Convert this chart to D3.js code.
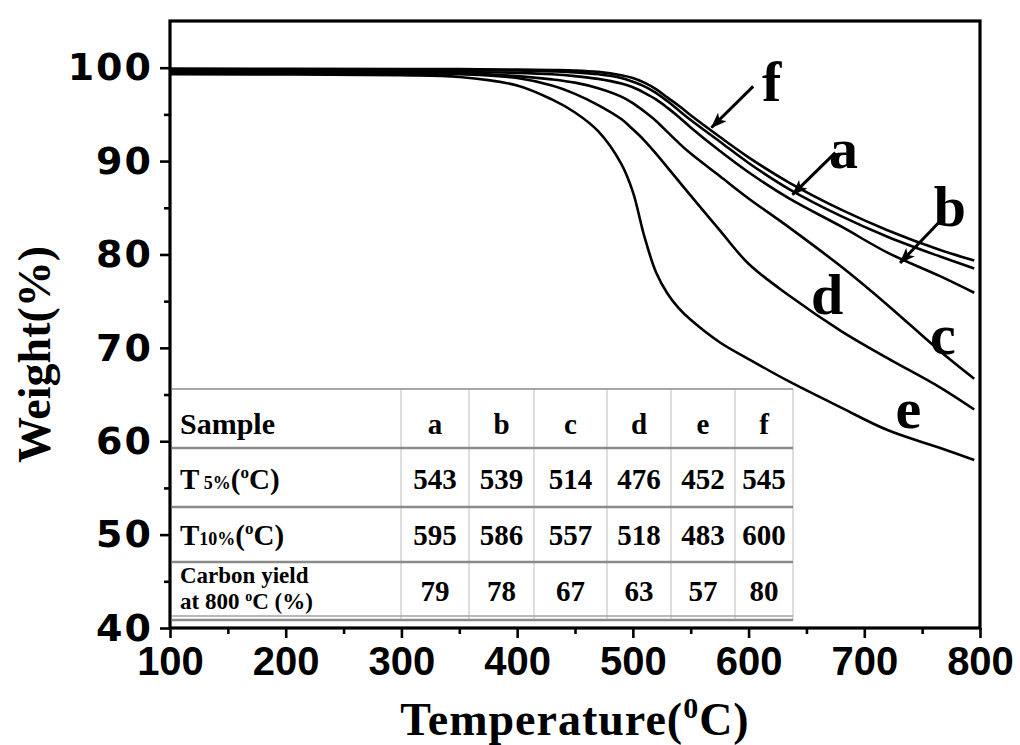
<!DOCTYPE html>
<html>
<head>
<meta charset="utf-8">
<script src="https://cdn.jsdelivr.net/npm/d3@7/dist/d3.min.js"></script>
<style>
  body { margin: 0; background: #fff; }
  svg { display: block; background: #fff; }
</style>
</head>
<body>
<svg id="tga" width="1020" height="745"></svg>
<script>
// temperature grid (deg C) shared by all curves
const temps = [100, 300, 350, 400, 430, 450, 470, 490, 500, 510, 520, 530, 540, 550, 575, 600, 635, 680, 720, 765, 795];

// residual weight (%)
const weightA = [99.8, 99.75, 99.75, 99.7, 99.6, 99.5, 99.3, 98.9, 98.5, 98.0, 97.3, 96.4, 95.4, 94.4, 92.1, 89.8, 87.0, 84.1, 81.9, 79.8, 78.5];
const weightB = [99.7, 99.6, 99.55, 99.45, 99.3, 99.1, 98.8, 98.3, 97.9, 97.3, 96.6, 95.7, 94.7, 93.6, 91.1, 88.8, 86.0, 83.0, 80.2, 77.7, 75.9];
const weightC = [99.6, 99.5, 99.4, 99.1, 98.75, 98.4, 97.8, 96.9, 96.2, 95.3, 94.3, 93.1, 91.9, 90.8, 88.4, 86.0, 82.9, 78.7, 74.6, 69.7, 66.7];
const weightD = [99.5, 99.4, 99.3, 98.9, 98.1, 97.2, 96.0, 94.5, 93.4, 92.2, 90.8, 89.3, 87.8, 86.3, 82.6, 79.0, 75.6, 71.8, 68.9, 65.8, 63.4];
const weightE = [99.3, 99.2, 99.0, 98.1, 96.6, 95.2, 93.2, 89.7, 86.7, 81.9, 78.1, 75.8, 74.2, 73.0, 70.6, 68.8, 66.4, 63.6, 61.2, 59.3, 58.0];
const weightF = [99.9, 99.85, 99.85, 99.8, 99.75, 99.7, 99.55, 99.2, 98.9, 98.4, 97.7, 96.8, 95.9, 94.9, 92.6, 90.4, 87.7, 84.8, 82.6, 80.5, 79.35];

// inset table
const sampleNames = ["a", "b", "c", "d", "e", "f"];
const t5 = [543, 539, 514, 476, 452, 545];
const t10 = [595, 586, 557, 518, 483, 600];
const carbonYield = [79, 78, 67, 63, 57, 80];

// axes
const xTicks = [100, 200, 300, 400, 500, 600, 700, 800];
const xMinor = [150, 250, 350, 450, 550, 650, 750];
const yTicks = [40, 50, 60, 70, 80, 90, 100];
const yMinor = [45, 55, 65, 75, 85, 95];

// curve labels (baseline anchor, data units)
const labelNames = ["f", "a", "b", "c", "d", "e"];
const labelT = [620, 682, 774, 768, 668, 738];
const labelW = [96.4, 89.3, 83.0, 69.3, 73.6, 61.4];

// pointer arrows [T, W]
const arrowFrom = [[604, 98.0], [675, 90.9], [765, 83.5]];
const arrowTo = [[568, 93.6], [638, 86.4], [731, 79.1]];

const mLeft = 170, mRight = 980, mTop = 21, mBottom = 628;
const serif = "'Liberation Serif', 'Times New Roman', serif";

const svg = d3.select("svg#tga");

const x = d3.scaleLinear().domain([100, 800]).range([mLeft, mRight]);
const y = d3.scaleLinear().domain([40, 105]).range([mBottom, mTop]);

const series = [
  {name: "a", values: weightA},
  {name: "b", values: weightB},
  {name: "c", values: weightC},
  {name: "d", values: weightD},
  {name: "e", values: weightE},
  {name: "f", values: weightF}
];

const line = d3.line()
  .x(d => x(d[0]))
  .y(d => y(d[1]))
  .curve(d3.curveCatmullRom.alpha(0.5));

svg.append("g")
  .selectAll("path")
  .data(series)
  .enter()
  .append("path")
    .attr("d", s => line(temps.map((t, i) => [t, s.values[i]])))
    .attr("fill", "none")
    .attr("stroke", "#000")
    .attr("stroke-width", 2.6);

// ---- inset table ----
const colEdges = [172, 401, 469, 534, 607, 671, 735, 793];
const rowEdges = [389, 448, 507, 562, 620];
const table = svg.append("g").attr("id", "table");

table.append("rect")
  .attr("x", colEdges[0]).attr("y", rowEdges[0])
  .attr("width", colEdges[7] - colEdges[0])
  .attr("height", rowEdges[4] - rowEdges[0])
  .attr("fill", "#fff");

table.selectAll("line.v")
  .data(colEdges.slice(1))
  .enter().append("line")
    .attr("class", "v")
    .attr("x1", d => d).attr("x2", d => d)
    .attr("y1", rowEdges[0]).attr("y2", rowEdges[4])
    .attr("stroke", "#c8c8c8")
    .attr("stroke-width", 1.2);

table.selectAll("line.h")
  .data(rowEdges)
  .enter().append("line")
    .attr("class", "h")
    .attr("x1", colEdges[0]).attr("x2", colEdges[7])
    .attr("y1", d => d).attr("y2", d => d)
    .attr("stroke", "#8a8a8a")
    .attr("stroke-width", (d, i) => i == 0 ? 1.5 : 2.5);

table.append("line")
  .attr("x1", colEdges[0]).attr("x2", colEdges[7])
  .attr("y1", rowEdges[4] - 4).attr("y2", rowEdges[4] - 4)
  .attr("stroke", "#a0a0a0")
  .attr("stroke-width", 1.5);

const colMid = i => (colEdges[i + 1] + colEdges[i + 2]) / 2;
const rowBase = [434, 489, 545, 601];
const rows = [sampleNames, t5, t10, carbonYield];

rows.forEach((vals, r) => {
  table.append("g")
    .selectAll("text")
    .data(vals)
    .enter().append("text")
      .attr("x", (d, i) => colMid(i))
      .attr("y", rowBase[r])
      .attr("text-anchor", "middle")
      .style("font", `bold 29px ${serif}`)
      .text(d => d);
});

table.append("text")
  .attr("x", 180).attr("y", rowBase[0])
  .style("font", `bold 30px ${serif}`)
  .text("Sample");

function tempLabel(yy, sub) {
  let t = table.append("text")
    .attr("x", 180).attr("y", yy)
    .style("font", `bold 29px ${serif}`);
  t.append("tspan").text("T");
  t.append("tspan").style("font-size", "18px").text(sub);
  t.append("tspan").text("(");
  t.append("tspan").attr("dy", -11).style("font-size", "17px").text("o");
  t.append("tspan").attr("dy", 11).text("C)");
}
tempLabel(rowBase[1], " 5%");
tempLabel(rowBase[2], "10%");

// two-line row label
table.append("text")
  .attr("x", 180).attr("y", 583)
  .style("font", `bold 23px ${serif}`)
  .text("Carbon yield");
let cy = table.append("text")
  .attr("x", 180).attr("y", 609)
  .style("font", `bold 23px ${serif}`);
cy.append("tspan").text("at 800 ");
cy.append("tspan").attr("dy", -8).style("font-size", "14px").text("o");
cy.append("tspan").attr("dy", 8).text("C (%)");

// ---- axes ----
const xAxis = svg.append("g")
  .attr("transform", `translate(0, ${mBottom})`)
  .call(d3.axisBottom(x).tickValues(xTicks).tickSize(10).tickSizeOuter(0).tickPadding(9));
xAxis.selectAll("text")
  .style("font", "bold 40px 'Liberation Sans', Arial, sans-serif")
  .attr("fill", "#000");

svg.append("g")
  .attr("transform", `translate(0, ${mBottom})`)
  .call(d3.axisBottom(x).tickValues(xMinor).tickSize(6).tickSizeOuter(0).tickFormat(""));

const yAxis = svg.append("g")
  .attr("transform", `translate(${mLeft}, 0)`)
  .call(d3.axisLeft(y).tickValues(yTicks).tickSize(10).tickSizeOuter(0).tickPadding(7));
yAxis.selectAll("text")
  .style("font", "bold 38px 'DejaVu Sans', sans-serif")
  .style("letter-spacing", "2px")
  .attr("fill", "#000");

svg.append("g")
  .attr("transform", `translate(${mLeft}, 0)`)
  .call(d3.axisLeft(y).tickValues(yMinor).tickSize(6).tickSizeOuter(0).tickFormat(""));

svg.selectAll(".tick line").attr("stroke", "#000").attr("stroke-width", 2.6);
svg.selectAll(".domain").attr("stroke", "none");

svg.append("rect")
  .attr("x", mLeft).attr("y", mTop)
  .attr("width", mRight - mLeft).attr("height", mBottom - mTop)
  .attr("fill", "none")
  .attr("stroke", "#000")
  .attr("stroke-width", 3.2);

// axis titles
svg.append("text")
  .attr("transform", `translate(50, ${(mTop + mBottom) / 2 + 30}) rotate(-90)`)
  .attr("text-anchor", "middle")
  .style("font", `bold 46px ${serif}`)
  .text("Weight(%)");

let xt = svg.append("text")
  .attr("x", (mLeft + mRight) / 2)
  .attr("y", 735)
  .attr("text-anchor", "middle")
  .style("font", `bold 46px ${serif}`)
  .style("letter-spacing", "1px");
xt.append("tspan").text("Temperature(");
xt.append("tspan").attr("dy", -17).style("font-size", "30px").text("0");
xt.append("tspan").attr("dy", 17).text("C)");

// ---- curve labels and arrows ----
svg.append("defs").append("marker")
  .attr("id", "head")
  .attr("viewBox", "0 0 16 12")
  .attr("refX", 15).attr("refY", 6)
  .attr("markerWidth", 16).attr("markerHeight", 12)
  .attr("markerUnits", "userSpaceOnUse")
  .attr("orient", "auto")
  .append("path")
    .attr("d", "M0,0 L16,6 L0,12 L4,6 Z")
    .attr("fill", "#000");

svg.append("g")
  .selectAll("line")
  .data(arrowFrom)
  .enter().append("line")
    .attr("x1", d => x(d[0])).attr("y1", d => y(d[1]))
    .attr("x2", (d, i) => x(arrowTo[i][0])).attr("y2", (d, i) => y(arrowTo[i][1]))
    .attr("stroke", "#000")
    .attr("stroke-width", 3)
    .attr("marker-end", "url(#head)");

svg.append("g")
  .selectAll("text")
  .data(labelNames)
  .enter().append("text")
    .attr("x", (d, i) => x(labelT[i]))
    .attr("y", (d, i) => y(labelW[i]))
    .attr("text-anchor", "middle")
    .style("font", `bold 58px ${serif}`)
    .text(d => d);
</script>
</body>
</html>
